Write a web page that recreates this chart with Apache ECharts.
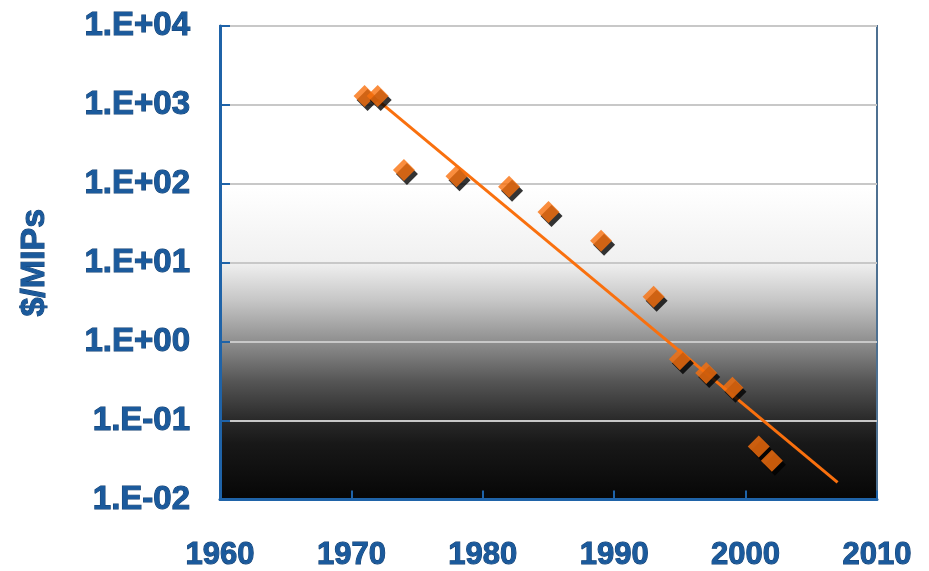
<!DOCTYPE html>
<html>
<head>
<meta charset="utf-8">
<script src="https://cdn.jsdelivr.net/npm/echarts@6/dist/echarts.min.js"></script>
<style>
html, body { margin: 0; padding: 0; background: #fff; }
#chart { width: 929px; height: 571px; }
</style>
</head>
<body>
<div id="chart"></div>
<script>
// cost of computing, $ per MIPS, by year
var years = [1971, 1972, 1974, 1978, 1982, 1985, 1989, 1993, 1995, 1997, 1999, 2001, 2002]
var costs = [1300, 1300, 150, 125, 92, 44, 19, 3.7, 0.6, 0.4, 0.26, 0.047, 0.031]
// fitted trend line end points
var trendYears = [1972, 2007]
var trendCosts = [1150, 0.0165]

var orange = '#f9700e'
var blue = '#1b5a9c'

function sciLabel(v) {
    var e = Math.round(Math.log10(v))
    var s = e < 0 ? '-' : '+'
    var a = Math.abs(e)
    return '1.E' + s + (a < 10 ? '0' : '') + a
}

var myChart = echarts.init(document.getElementById('chart'))
var options = {
    animation: false,
    grid: {
        left: 220,
        right: 52,
        top: 26,
        bottom: 71,
        show: true,
        borderColor: '#4d7091',
        borderWidth: 2,
        // white top fading to black at the bottom
        backgroundColor: new echarts.graphic.LinearGradient(0, 0, 0, 1, [
            { offset: 0, color: '#ffffff' },
            { offset: 0.34, color: '#ffffff' },
            { offset: 0.5, color: '#f0f0f0' },
            { offset: 0.58, color: '#c6c6c6' },
            { offset: 0.67, color: '#8c8c8c' },
            { offset: 0.75, color: '#555555' },
            { offset: 0.83, color: '#2a2a2a' },
            { offset: 0.88, color: '#181818' },
            { offset: 1, color: '#060606' }
        ])
    },
    xAxis: {
        type: 'value',
        min: 1960,
        max: 2010,
        interval: 10,
        axisLine: { show: true, lineStyle: { color: '#1f63a8', width: 3 } },
        axisTick: { show: true, inside: true, length: 9, lineStyle: { color: '#1f63a8', width: 2 } },
        splitLine: { show: false },
        axisLabel: {
            margin: 40,
            color: blue,
            fontFamily: 'Liberation Sans',
            fontWeight: 'bold',
            fontSize: 31,
            textBorderColor: '#123f70',
            textBorderWidth: 1,
            formatter: function (v) { return String(v) }
        }
    },
    yAxis: {
        type: 'log',
        logBase: 10,
        min: 0.01,
        max: 10000,
        name: '$/MIPs',
        nameLocation: 'middle',
        nameRotate: 90,
        nameGap: 168,
        nameTextStyle: {
            color: blue,
            fontFamily: 'Liberation Sans',
            fontWeight: 'bold',
            fontSize: 34,
            textBorderColor: '#123f70',
            textBorderWidth: 1
        },
        axisLine: { show: true, lineStyle: { color: '#1f63a8', width: 3 } },
        axisTick: { show: true, inside: true, length: 10, lineStyle: { color: '#1f63a8', width: 2 } },
        splitLine: { show: true, lineStyle: { color: '#c8c8c8', width: 2 } },
        axisLabel: {
            margin: 30,
            color: blue,
            fontFamily: 'Liberation Sans',
            fontWeight: 'bold',
            fontSize: 33,
            textBorderColor: '#123f70',
            textBorderWidth: 1,
            formatter: sciLabel
        }
    },
    series: [
        {
            type: 'line',
            data: trendYears.map(function (y, i) { return [y, trendCosts[i]] }),
            showSymbol: false,
            lineStyle: { color: orange, width: 3 },
            z: 2
        },
        {
            type: 'scatter',
            data: years.map(function (y, i) { return [y, costs[i]] }),
            symbol: 'diamond',
            symbolSize: 22,
            itemStyle: {
                color: orange,
                shadowColor: '#000',
                shadowBlur: 0,
                shadowOffsetX: 3,
                shadowOffsetY: 4
            },
            z: 3
        }
    ]
}
myChart.setOption(options)
</script>
</body>
</html>
